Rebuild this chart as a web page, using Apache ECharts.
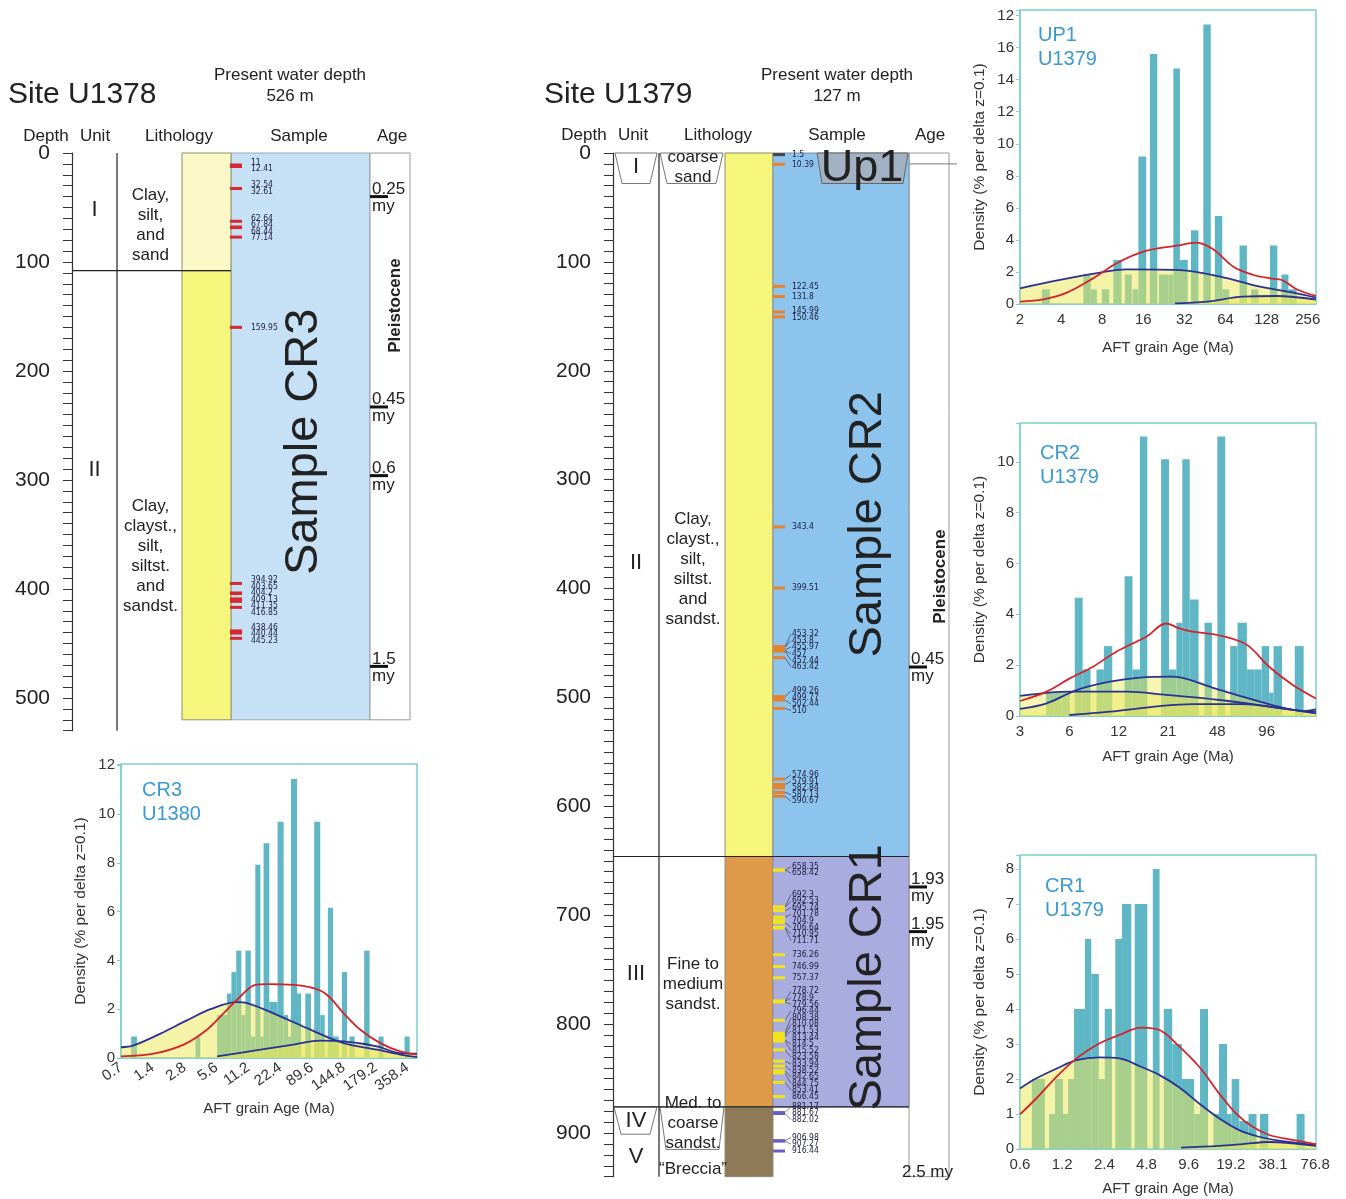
<!DOCTYPE html>
<html>
<head>
<meta charset="utf-8">
<title>Sites U1378 / U1379 - AFT grain ages</title>
<script src="https://cdn.jsdelivr.net/npm/echarts@6.0.0/dist/echarts.min.js"></script>
<style>
  html, body { margin: 0; padding: 0; background: #fff; }
  #chart { width: 1346px; height: 1199px; }
</style>
</head>
<body>
<div id="chart"></div>
<script>
// ---------- Site U1378 (depth in m) ----------
var u1378UnitNames = ['I', 'II'];
var u1378UnitTop = [0, 108];
var u1378UnitBase = [108, 520];
var u1378UnitLabelDepth = [52, 291];
var u1378Litho = ['Clay,\nsilt,\nand\nsand', 'Clay,\nclayst.,\nsilt,\nsiltst.\nand\nsandst.'];
var u1378LithoLabelDepth = [66, 370];
var u1378SampleDepths = [11, 12.41, 32.54, 32.61, 62.64, 67.84, 68.44, 77.14, 159.95,
  394.92, 403.65, 404.2, 409.13, 411.35, 416.85, 438.46, 440.44, 445.23];
var u1378AgeDepths = [40, 233, 296, 471];
var u1378AgeLabels = ['0.25', '0.45', '0.6', '1.5'];

// ---------- Site U1379 (depth in m) ----------
var u1379UnitNames = ['I', 'II', 'III', 'IV', 'V'];
var u1379UnitLabelDepth = [13, 376, 754, 889, 922];
var u1379Litho = ['coarse\nsand', 'Clay,\nclayst.,\nsilt,\nsiltst.\nand\nsandst.',
  'Fine to\nmedium\nsandst.', 'Med. to\ncoarse\nsandst.', '\u201cBreccia\u201d'];
var u1379LithoLabelDepth = [13, 382, 763, 891, 933];
var u1379StripTop = [0, 646, 876];
var u1379StripBase = [646, 876, 940];
var u1379SampleDepths = [1.5, 10.39, 122.45, 131.8, 145.99, 150.46, 343.4, 399.51,
  453.32, 453.8, 455.97, 457, 457.44, 463.42, 499.26, 499.77, 502.44, 510,
  574.96, 579.91, 582.84, 587.13, 590.67, 658.35, 658.42, 692.3, 692.53, 695.74,
  701.78, 704.9, 706.64, 710.95, 711.71, 736.26, 746.99, 757.37, 778.72, 778.9,
  779.56, 796.44, 808.38, 810.08, 811.53, 813.44, 814.5, 815.52, 823.58, 833.94,
  838.52, 842.65, 844.75, 853.41, 866.45, 881.17, 881.67, 882.02, 906.98, 907.27, 916.44];
var u1379AgeDepths = [472, 674, 715];
var u1379AgeLabels = ['0.45', '1.93', '1.95'];

// ---------- histograms: x in axis-label positions (0 = first tick label) ----------
var up1Ticks = ['2', '4', '8', '16', '32', '64', '128', '256'];
var up1YTicks = ['0', '2', '4', '6', '8', '10', '12', '14', '16', '12'];
var up1Lo = [0.53, 1.54, 1.72, 1.99, 2.27, 2.55, 2.74, 2.88, 3.16, 3.38, 3.61, 3.73, 3.89, 4.16, 4.46, 4.74, 4.92, 5.34, 5.62, 6.08, 6.36, 6.53];
var up1Hi = [0.73, 1.72, 1.87, 2.17, 2.47, 2.72, 2.88, 3.07, 3.34, 3.61, 3.73, 3.89, 4.08, 4.34, 4.64, 4.92, 5.09, 5.52, 5.80, 6.26, 6.53, 6.73];
var up1Density = [0.92, 1.84, 0.92, 0.92, 2.75, 1.84, 0.92, 9.2, 15.6, 1.84, 1.84, 14.7, 2.75, 4.6, 17.45, 5.5, 0.92, 3.65, 0.92, 3.65, 1.84, 0.92];
var up1RedX = [0, 0.57, 1.14, 1.78, 2.35, 3.0, 3.81, 4.30, 4.70, 5.19, 5.68, 6.08, 6.37, 6.73, 7.2];
var up1RedY = [0.15, 0.29, 0.71, 1.6, 2.54, 3.27, 3.64, 3.83, 3.41, 2.33, 1.81, 1.6, 1.5, 0.92, 0.5];
var up1BlueAX = [0, 0.97, 1.95, 2.6, 3.89, 4.87, 5.84, 6.65, 7.2];
var up1BlueAY = [0.98, 1.5, 1.96, 2.16, 2.12, 1.71, 1.08, 0.71, 0.4];
var up1BlueBX = [3.77, 4.54, 5.43, 6.24, 7.2];
var up1BlueBY = [0.04, 0.15, 0.46, 0.5, 0.28];

var cr2Ticks = ['3', '6', '12', '21', '48', '96'];
var cr2YTicks = ['0', '2', '4', '6', '8', '10'];
var cr2Lo = [0.53, 0.68, 0.84, 1.11, 1.27, 1.55, 1.70, 2.12, 2.28, 2.43, 2.86, 3.02, 3.17, 3.29, 3.44, 3.74, 4.00, 4.26, 4.41, 4.60, 4.75, 4.90, 5.05, 5.14, 5.57];
var cr2Hi = [0.68, 0.84, 1.01, 1.27, 1.43, 1.70, 1.87, 2.28, 2.43, 2.58, 3.02, 3.17, 3.29, 3.44, 3.62, 3.89, 4.16, 4.41, 4.60, 4.75, 4.90, 5.05, 5.14, 5.31, 5.75];
var cr2Density = [0.92, 0.92, 0.92, 4.65, 1.83, 1.83, 2.75, 5.5, 1.83, 11.0, 10.1, 1.83, 3.67, 10.1, 4.58, 3.67, 11.0, 2.75, 3.67, 1.83, 1.83, 2.75, 0.92, 2.75, 2.75];
var cr2RedX = [0, 0.54, 1.01, 1.48, 1.95, 2.56, 2.96, 3.23, 3.50, 3.91, 4.38, 4.65, 5.05, 5.53, 6.0];
var cr2RedY = [0.59, 0.96, 1.48, 1.94, 2.53, 3.12, 3.64, 3.45, 3.32, 3.22, 2.99, 2.73, 1.94, 1.22, 0.69];
var cr2BlueAX = [0, 1.01, 2.16, 2.96, 4.04, 4.85, 5.53, 6.0];
var cr2BlueAY = [0.79, 0.96, 0.96, 0.83, 0.63, 0.43, 0.24, 0.17];
var cr2BlueBX = [0, 0.54, 1.15, 1.82, 2.43, 3.10, 3.91, 4.51, 5.19, 5.73, 6.0];
var cr2BlueBY = [0.28, 0.5, 1.02, 1.35, 1.51, 1.55, 1.11, 0.76, 0.39, 0.2, 0.26];
var cr2BlueCX = [1.0, 1.82, 2.83, 3.50, 4.51, 5.19, 6.0];
var cr2BlueCY = [0.04, 0.17, 0.39, 0.47, 0.47, 0.33, 0.1];

var cr1Ticks = ['0.6', '1.2', '2.4', '4.8', '9.6', '19.2', '38.1', '76.8'];
var cr1YTicks = ['0', '1', '2', '3', '4', '5', '6', '7', '8'];
var cr1Lo = [0.28, 0.69, 0.83, 1.02, 1.14, 1.28, 1.54, 1.69, 1.87, 2.01, 2.26, 2.42, 2.72, 3.15, 3.41, 3.61, 3.84, 4.13, 4.27, 4.59, 4.72, 4.91, 5.02, 5.20, 5.42, 5.69, 6.56];
var cr1Hi = [0.59, 0.83, 1.02, 1.14, 1.28, 1.54, 1.69, 1.87, 2.01, 2.18, 2.42, 2.64, 3.02, 3.31, 3.61, 3.84, 4.13, 4.27, 4.46, 4.72, 4.91, 5.02, 5.20, 5.42, 5.61, 5.89, 6.75];
var cr1Density = [2, 1, 2, 1, 2, 4, 6, 5, 2, 4, 6, 7, 7, 8, 4, 3, 2, 1, 4, 1, 3, 1, 2, 0.8, 1, 1, 1];
var cr1RedX = [0, 0.39, 0.87, 1.34, 1.89, 2.36, 2.87, 3.31, 3.70, 4.25, 4.72, 5.12, 5.51, 5.91, 6.46, 7.02];
var cr1RedY = [0.99, 1.45, 2.07, 2.59, 3.02, 3.26, 3.47, 3.4, 3.02, 2.35, 1.59, 1.02, 0.64, 0.4, 0.26, 0.14];
var cr1BlueAX = [0, 0.39, 0.87, 1.34, 1.89, 2.36, 2.87, 3.31, 3.78, 4.25, 4.72, 5.2, 5.67, 6.14, 7.02];
var cr1BlueAY = [1.73, 2.02, 2.3, 2.54, 2.62, 2.59, 2.35, 2.11, 1.76, 1.3, 0.88, 0.54, 0.35, 0.24, 0.11];
var cr1BlueBX = [3.82, 4.72, 5.28, 5.91, 6.46, 7.02];
var cr1BlueBY = [0.04, 0.09, 0.14, 0.2, 0.16, 0.09];

var cr3Ticks = ['0.7', '1.4', '2.8', '5.6', '11.2', '22.4', '89.6', '144.8', '179.2', '358.4'];
var cr3YTicks = ['0', '2', '4', '6', '8', '10', '12'];
var cr3Lo = [0.32, 2.34, 3.02, 3.33, 3.47, 3.62, 3.78, 3.91, 4.08, 4.22, 4.38, 4.48, 4.66, 4.92, 5.11, 5.25, 5.34, 5.53, 5.79, 6.07, 6.26, 6.50, 6.66, 6.94, 7.18, 7.64, 8.09, 8.91];
var cr3Hi = [0.50, 2.49, 3.33, 3.47, 3.62, 3.78, 3.91, 4.08, 4.22, 4.38, 4.48, 4.66, 4.92, 5.11, 5.25, 5.34, 5.53, 5.66, 5.97, 6.26, 6.40, 6.66, 6.84, 7.10, 7.34, 7.81, 8.25, 9.07];
var cr3Density = [0.88, 0.88, 1.76, 2.64, 3.52, 4.4, 1.76, 4.4, 0.88, 7.92, 0.88, 8.8, 2.3, 9.68, 1.76, 0.88, 11.44, 2.64, 2.64, 9.68, 1.76, 6.16, 0.88, 3.52, 0.88, 4.4, 0.88, 0.88];
var cr3RedX = [0, 1.03, 1.97, 2.70, 3.23, 3.75, 4.22, 4.59, 5.42, 6.05, 6.47, 6.99, 7.52, 8.15, 8.77, 9.3];
var cr3RedY = [0.07, 0.18, 0.55, 1.16, 1.84, 2.52, 3.0, 3.03, 3.0, 2.86, 2.59, 1.84, 1.16, 0.61, 0.27, 0.14];
var cr3BlueAX = [0, 0.40, 1.24, 2.07, 2.81, 3.64, 3.96, 4.90, 5.95, 6.99, 8.04, 8.77, 9.3];
var cr3BlueAY = [0.44, 0.52, 1.0, 1.54, 2.0, 2.29, 2.25, 1.77, 1.16, 0.61, 0.34, 0.14, 0.04];
var cr3BlueBX = [3.02, 4.38, 5.42, 6.26, 6.99, 8.04, 8.77, 9.3];
var cr3BlueBY = [0.07, 0.34, 0.55, 0.71, 0.68, 0.48, 0.2, 0.18];

// ---------- styling / layout ----------
var FONT = 'Liberation Sans, Arial, sans-serif';
var SMALL_FONT = 'Liberation Sans Narrow, DejaVu Sans Condensed, sans-serif';
var FRAME = '#7ECFCF';
var BAR = '#5FB7C5';
var AREA = '#ECE858';
var BLUE = '#2B3192';
var RED = '#D3232B';
var CHIP = '#3B9AD6';
// column edges, px from the depth axis
var COL_L = {unit: [0, 45], litho: [45, 110], strip: [110, 159], sample: [159, 298], age: [298, 338]};
var COL_R = {unit: [0, 46], litho: [46, 112], strip: [112, 160], sample: [160, 296], age: [296, 336]};

function zip(a, b) { return a.map(function (v, i) { return [v, b[i]]; }); }

function rectSeries(gi, items, z) {
  return {
    type: 'custom', xAxisIndex: gi, yAxisIndex: gi, z: z || 1, silent: true,
    data: items.map(function (r) {
      return {value: [r.x[0], r.x[1], r.d0, r.d1],
        itemStyle: {color: r.fill, borderColor: r.stroke || 'transparent', borderWidth: r.lw || 0}};
    }),
    renderItem: function (params, api) {
      var a = api.coord([api.value(0), api.value(2)]);
      var b = api.coord([api.value(1), api.value(3)]);
      return {type: 'rect', shape: {x: a[0], y: a[1], width: b[0] - a[0], height: b[1] - a[1]}, style: api.style()};
    }
  };
}

function lineSeries(gi, items) {
  return {
    type: 'custom', xAxisIndex: gi, yAxisIndex: gi, z: 4, silent: true,
    data: items.map(function (l) { return [l.x0, l.x1, l.d0, l.d1]; }),
    renderItem: function (params, api) {
      var l = items[params.dataIndex];
      var a = api.coord([api.value(0), api.value(2)]);
      var b = api.coord([api.value(1), api.value(3)]);
      return {type: 'line', shape: {x1: a[0], y1: a[1], x2: b[0], y2: b[1]},
        style: {stroke: l.color || '#222', lineWidth: l.lw || 1.2}};
    }
  };
}

function polySeries(gi, items) {
  return {
    type: 'custom', xAxisIndex: gi, yAxisIndex: gi, z: 3, silent: true,
    data: items.map(function (p, i) { return [p.pts[0][0], p.pts[0][1], i]; }),
    renderItem: function (params, api) {
      var p = items[params.dataIndex];
      return {type: 'polygon', shape: {points: p.pts.map(function (q) { return api.coord(q); })},
        style: {fill: p.fill || '#fff', stroke: p.stroke || '#777', lineWidth: 1}};
    }
  };
}

function textSeries(gi, items) {
  return {
    type: 'custom', xAxisIndex: gi, yAxisIndex: gi, z: 6, silent: true,
    data: items.map(function (t) { return [t.x, t.d]; }),
    renderItem: function (params, api) {
      var t = items[params.dataIndex];
      var p = api.coord([api.value(0), api.value(1)]);
      return {type: 'text', x: p[0], y: p[1], rotation: t.rot || 0,
        style: {text: t.text, fill: t.color || '#222', fontSize: t.size || 17, fontWeight: t.weight || 'normal',
          fontFamily: FONT, align: t.align || 'center', verticalAlign: t.va || 'middle', lineHeight: t.lh || 20}};
    }
  };
}

function ageSeries(gi, x, depths, labels) {
  return {
    type: 'custom', xAxisIndex: gi, yAxisIndex: gi, z: 6, silent: true,
    data: depths.map(function (d) { return [x, d]; }),
    renderItem: function (params, api) {
      var p = api.coord([api.value(0), api.value(1)]);
      var st = {fontSize: 17, fontFamily: FONT, fill: '#222', align: 'left'};
      return {type: 'group', children: [
        {type: 'line', shape: {x1: p[0], y1: p[1], x2: p[0] + 18, y2: p[1]}, style: {stroke: '#111', lineWidth: 3}},
        {type: 'text', x: p[0] + 2, y: p[1] + 1, style: Object.assign({text: labels[params.dataIndex], verticalAlign: 'bottom'}, st)},
        {type: 'text', x: p[0] + 2, y: p[1] + 1, style: Object.assign({text: 'my', verticalAlign: 'top'}, st)}
      ]};
    }
  };
}

// spread label rows so that none overlap: neighbouring labels are grouped and centred on their ticks
function spreadLabels(ys, gap) {
  var cl = ys.map(function (y) { return {n: 1, sum: y}; });
  function top(c) { return c.sum / c.n - (c.n - 1) * gap / 2; }
  var merged = true;
  while (merged) {
    merged = false;
    for (var k = 0; k < cl.length - 1; k++) {
      if (top(cl[k]) + cl[k].n * gap > top(cl[k + 1])) {
        cl[k].n += cl[k + 1].n; cl[k].sum += cl[k + 1].sum; cl.splice(k + 1, 1); merged = true; break;
      }
    }
  }
  var out = [];
  cl.forEach(function (c) { var t = top(c); for (var j = 0; j < c.n; j++) out.push(t + j * gap); });
  return out;
}

function sampleSeries(gi, x, depths, colorOf, withLines) {
  var order = depths.map(function (d, i) { return i; }).sort(function (a, b) { return depths[a] - depths[b]; });
  var GAP = 6.6;
  return {
    type: 'custom', xAxisIndex: gi, yAxisIndex: gi, z: 5, silent: true,
    data: depths.map(function (d) { return [x, d]; }),
    renderItem: function (params, api) {
      var ys = order.map(function (i) { return api.coord([x, depths[i]])[1]; });
      var spread = spreadLabels(ys, GAP);
      var rank = order.indexOf(params.dataIndex);
      var p = api.coord([api.value(0), api.value(1)]);
      var ly = spread[rank];
      var lx = p[0] + (withLines ? 13 : 15);
      var kids = [
        {type: 'rect', shape: {x: p[0] - 6, y: p[1] - 1.5, width: 12, height: 3},
          style: {fill: colorOf(api.value(1))}},
        {type: 'text', x: lx, y: ly, style: {text: String(depths[params.dataIndex]), fontSize: 8.5,
          fontFamily: SMALL_FONT, fill: '#1c1c3c', align: 'left', verticalAlign: 'middle'}}
      ];
      if (withLines && Math.abs(ly - p[1]) > 1.5) {
        kids.push({type: 'line', shape: {x1: p[0] + 6, y1: p[1], x2: lx - 1, y2: ly},
          style: {stroke: '#2a2a4a', lineWidth: 0.6}});
      }
      return {type: 'group', children: kids};
    }
  };
}

// ---------- column U1378 ----------
var L = COL_L, R = COL_R;
var u1378Series = [];
var u1378StripFill = ['#FAF8C6', '#F6F57C'];
u1378Series.push(rectSeries(0, [
  {x: L.sample, d0: 0, d1: 520, fill: '#C6E1F6', stroke: '#9aa', lw: 1},
  {x: L.age, d0: 0, d1: 520, fill: '#fff', stroke: '#999', lw: 1}
].concat(u1378UnitTop.map(function (t, i) {
  return {x: L.strip, d0: t, d1: u1378UnitBase[i], fill: u1378StripFill[i], stroke: '#8f8f6a', lw: 1};
}))));
u1378Series.push(lineSeries(0, [
  {x0: L.unit[1], x1: L.unit[1], d0: 0, d1: 530},
  {x0: 0, x1: L.strip[1], d0: u1378UnitBase[0], d1: u1378UnitBase[0]}
]));
u1378Series.push(textSeries(0, u1378UnitNames.map(function (n, i) {
  return {x: (L.unit[0] + L.unit[1]) / 2, d: u1378UnitLabelDepth[i], text: n, size: 22};
}).concat(u1378Litho.map(function (t, i) {
  return {x: (L.litho[0] + L.litho[1]) / 2 + 1, d: u1378LithoLabelDepth[i], text: t, size: 17};
})).concat([
  {x: (L.sample[0] + L.sample[1]) / 2 + 4, d: 265, text: 'Sample CR3', size: 47, rot: Math.PI / 2},
  {x: (L.age[0] + L.age[1]) / 2 + 5, d: 140, text: 'Pleistocene', size: 17, weight: 'bold', rot: Math.PI / 2}
])));
u1378Series.push(sampleSeries(0, L.sample[0] + 5, u1378SampleDepths, function () { return '#D62A30'; }, false));
u1378Series.push(ageSeries(0, L.age[0], u1378AgeDepths, u1378AgeLabels));

// ---------- column U1379 ----------
var u1379Series = [];
var u1379StripFill = ['#F6F57C', '#DE9A48', '#8E7A58'];
var u1379SampleFill = ['#8DC4EE', '#A9ACDF'];
u1379Series.push(rectSeries(1, [
  {x: R.age, d0: 0, d1: 940, fill: '#fff', stroke: '#999', lw: 1}
].concat(u1379StripTop.map(function (t, i) {
  return {x: R.strip, d0: t, d1: u1379StripBase[i], fill: u1379StripFill[i], stroke: '#8f8f6a', lw: 1};
})).concat(u1379SampleFill.map(function (c, i) {
  return {x: R.sample, d0: u1379StripTop[i], d1: u1379StripBase[i], fill: c, stroke: '#8a8a9a', lw: 1};
}))));
u1379Series.push(lineSeries(1, [
  {x0: R.unit[1], x1: R.unit[1], d0: 0, d1: 940},
  {x0: 0, x1: R.sample[1], d0: u1379StripTop[1], d1: u1379StripTop[1]},
  {x0: 0, x1: R.sample[1], d0: u1379StripTop[2], d1: u1379StripTop[2]},
  {x0: R.age[0], x1: R.age[1] + 8, d0: 10, d1: 10, color: '#777', lw: 1}
]));
u1379Series.push(polySeries(1, [
  {pts: [[2, 0], [44, 0], [37, 28], [9, 28]]},
  {pts: [[47, 0], [110, 0], [103, 28], [54, 28]]},
  {pts: [[1, 876], [44, 876], [37, 901], [8, 901]]},
  {pts: [[47, 876], [111, 876], [106, 915], [53, 915]]},
  {pts: [[204, 0], [295, 0], [290, 28], [209, 28]], fill: '#A2B2C2', stroke: '#666'}
]));
u1379Series.push(textSeries(1, u1379UnitNames.map(function (n, i) {
  return {x: (R.unit[0] + R.unit[1]) / 2, d: u1379UnitLabelDepth[i], text: n, size: 22};
}).concat(u1379Litho.map(function (t, i) {
  return {x: (R.litho[0] + R.litho[1]) / 2 + 1, d: u1379LithoLabelDepth[i], text: t, size: 17};
})).concat([
  {x: 249, d: 14, text: 'Up1', size: 45},
  {x: (R.sample[0] + R.sample[1]) / 2 + 27, d: 341, text: 'Sample CR2', size: 47, rot: Math.PI / 2},
  {x: (R.sample[0] + R.sample[1]) / 2 + 27, d: 757, text: 'Sample CR1', size: 47, rot: Math.PI / 2},
  {x: (R.age[0] + R.age[1]) / 2 + 11, d: 389, text: 'Pleistocene', size: 17, weight: 'bold', rot: Math.PI / 2},
  {x: R.age[0] - 7, d: 936, text: '2.5 my', size: 17, align: 'left'}
])));
u1379Series.push(sampleSeries(1, R.sample[0] + 6, u1379SampleDepths, function (d) {
  if (d < 2) return '#444';
  if (d < u1379StripTop[1]) return '#E8822A';
  if (d < u1379StripTop[2]) return '#F2E21E';
  return '#6A5FC0';
}, true));
u1379Series.push(ageSeries(1, R.age[0], u1379AgeDepths, u1379AgeLabels));

// ---------- histogram series ----------
function histSeries(gi, lo, hi, dens, areaCurves, blueCurves, redCurve) {
  var out = [];
  out.push({
    type: 'custom', xAxisIndex: gi, yAxisIndex: gi, z: 2, silent: true,
    data: lo.map(function (v, i) { return [v, hi[i], dens[i]]; }),
    renderItem: function (params, api) {
      var a = api.coord([api.value(0), 0]);
      var b = api.coord([api.value(1), api.value(2)]);
      return {type: 'rect', shape: {x: a[0], y: b[1], width: b[0] - a[0], height: a[1] - b[1]}, style: {fill: BAR}};
    }
  });
  areaCurves.forEach(function (c) {
    out.push({type: 'line', xAxisIndex: gi, yAxisIndex: gi, z: 3, smooth: 0.35, symbol: 'none', silent: true,
      data: c.data, lineStyle: {width: 0, opacity: 0}, areaStyle: {color: AREA, opacity: c.op}});
  });
  blueCurves.forEach(function (c) {
    out.push({type: 'line', xAxisIndex: gi, yAxisIndex: gi, z: 4, smooth: 0.35, symbol: 'none', silent: true,
      data: c, lineStyle: {color: BLUE, width: 1.8}});
  });
  out.push({type: 'line', xAxisIndex: gi, yAxisIndex: gi, z: 5, smooth: 0.35, symbol: 'none', silent: true,
    data: redCurve, lineStyle: {color: RED, width: 1.8}});
  return out;
}

var up1A = zip(up1BlueAX, up1BlueAY), up1B = zip(up1BlueBX, up1BlueBY);
var cr2A = zip(cr2BlueAX, cr2BlueAY), cr2B = zip(cr2BlueBX, cr2BlueBY), cr2C = zip(cr2BlueCX, cr2BlueCY);
var cr1A = zip(cr1BlueAX, cr1BlueAY), cr1B = zip(cr1BlueBX, cr1BlueBY);
var cr3A = zip(cr3BlueAX, cr3BlueAY), cr3B = zip(cr3BlueBX, cr3BlueBY);

var histSeriesAll = []
  .concat(histSeries(2, up1Lo, up1Hi, up1Density, [{data: up1A, op: 0.52}, {data: up1B, op: 0.52}], [up1A, up1B], zip(up1RedX, up1RedY)))
  .concat(histSeries(3, cr2Lo, cr2Hi, cr2Density, [{data: cr2A, op: 0.45}, {data: cr2B, op: 0.45}, {data: cr2C, op: 0.3}], [cr2A, cr2B, cr2C], zip(cr2RedX, cr2RedY)))
  .concat(histSeries(4, cr1Lo, cr1Hi, cr1Density, [{data: cr1A, op: 0.52}, {data: cr1B, op: 0.52}], [cr1A, cr1B], zip(cr1RedX, cr1RedY)))
  .concat(histSeries(5, cr3Lo, cr3Hi, cr3Density, [{data: cr3A, op: 0.52}, {data: cr3B, op: 0.52}], [cr3A, cr3B], zip(cr3RedX, cr3RedY)));

// ---------- axes ----------
function stepLabel(labels, step) {
  return function (v) {
    var k = v / step, r = Math.round(k);
    return (Math.abs(k - r) < 1e-6 && labels[r] !== undefined) ? labels[r] : '';
  };
}

function depthY(gi, max) {
  return {
    gridIndex: gi, type: 'value', inverse: true, min: 0, max: max, interval: 10,
    axisLine: {show: true, lineStyle: {color: '#333', width: 1.2}},
    axisTick: {show: true, length: 9, lineStyle: {color: '#333', width: 1}},
    axisLabel: {fontSize: 21, color: '#222', fontFamily: FONT, margin: 22,
      formatter: function (v) { return v % 100 === 0 ? String(v) : ''; }},
    splitLine: {show: false}
  };
}

function histX(gi, max, labels, rotate, nameGap) {
  return {
    gridIndex: gi, type: 'value', min: 0, max: max, interval: 1,
    name: 'AFT grain Age (Ma)', nameLocation: 'middle', nameGap: nameGap,
    nameTextStyle: {fontSize: 15, color: '#333', fontFamily: FONT},
    axisLine: {show: true, lineStyle: {color: FRAME, width: 1.5}},
    axisTick: {show: false},
    axisLabel: {fontSize: 15, color: '#333', fontFamily: FONT, margin: 8, rotate: rotate || 0,
      formatter: stepLabel(labels, 1)},
    splitLine: {show: false}
  };
}

function histY(gi, max, step, labels) {
  return {
    gridIndex: gi, type: 'value', min: 0, max: max, interval: step,
    name: 'Density (% per delta z=0.1)', nameLocation: 'middle', nameGap: 32,
    nameTextStyle: {fontSize: 15.5, color: '#333', fontFamily: FONT},
    axisLine: {show: true, lineStyle: {color: FRAME, width: 1.5}},
    axisTick: {show: true, length: 4, lineStyle: {color: FRAME}},
    axisLabel: {fontSize: 15, color: '#333', fontFamily: FONT, margin: 6, formatter: stepLabel(labels, step)},
    splitLine: {show: false}
  };
}

function hiddenX(gi, max) {
  return {gridIndex: gi, type: 'value', min: 0, max: max, show: false};
}

// ---------- static texts ----------
function txt(x, y, s, size, opt) {
  opt = opt || {};
  return {type: 'text', x: x, y: y, silent: true, z: 10,
    style: {text: s, fontSize: size, fontFamily: FONT, fill: opt.color || '#222',
      align: opt.align || 'center', verticalAlign: 'middle', lineHeight: opt.lh || size * 1.2}};
}

var graphics = [
  txt(8, 95, 'Site U1378', 30, {align: 'left'}),
  txt(290, 75, 'Present water depth', 17),
  txt(290, 96, '526 m', 17),
  txt(46, 136, 'Depth', 17), txt(95, 136, 'Unit', 17), txt(179, 136, 'Lithology', 17),
  txt(299, 136, 'Sample', 17), txt(392, 136, 'Age', 17),
  txt(544, 95, 'Site U1379', 30, {align: 'left'}),
  txt(837, 75, 'Present water depth', 17),
  txt(837, 96, '127 m', 17),
  txt(584, 135, 'Depth', 17), txt(633, 135, 'Unit', 17), txt(718, 135, 'Lithology', 17),
  txt(837, 135, 'Sample', 17), txt(930, 135, 'Age', 17),
  txt(1038, 47, 'UP1\nU1379', 20, {align: 'left', color: CHIP, lh: 24}),
  txt(1040, 465, 'CR2\nU1379', 20, {align: 'left', color: CHIP, lh: 24}),
  txt(1045, 898, 'CR1\nU1379', 20, {align: 'left', color: CHIP, lh: 24}),
  txt(142, 802, 'CR3\nU1380', 20, {align: 'left', color: CHIP, lh: 24})
];

var gridFrame = {show: true, borderColor: FRAME, borderWidth: 1.5, backgroundColor: 'transparent'};

var option = {
  animation: false,
  backgroundColor: '#fff',
  textStyle: {fontFamily: FONT},
  grid: [
    {left: 72, top: 153, width: 338, height: 530 * 1.09},
    {left: 613, top: 153, width: 336, height: 940 * 1.089},
    Object.assign({left: 1020, top: 10, width: 296, height: 294}, gridFrame),
    Object.assign({left: 1020, top: 423, width: 296, height: 293}, gridFrame),
    Object.assign({left: 1020, top: 855, width: 296, height: 294}, gridFrame),
    Object.assign({left: 121, top: 764, width: 296, height: 294}, gridFrame)
  ],
  xAxis: [
    hiddenX(0, 338), hiddenX(1, 336),
    histX(2, 7.2, up1Ticks, 0, 36),
    histX(3, 6.0, cr2Ticks, 0, 33),
    histX(4, 7.02, cr1Ticks, 0, 32),
    histX(5, 9.3, cr3Ticks, 35, 43)
  ],
  yAxis: [
    depthY(0, 530), depthY(1, 940),
    histY(2, 18.35, 2, up1YTicks),
    histY(3, 11.53, 2, cr2YTicks),
    histY(4, 8.4, 1, cr1YTicks),
    histY(5, 12.05, 2, cr3YTicks)
  ],
  graphic: graphics,
  series: [].concat(u1378Series, u1379Series, histSeriesAll)
};

var chart = echarts.init(document.getElementById('chart'));
chart.setOption(option);
</script>
</body>
</html>
